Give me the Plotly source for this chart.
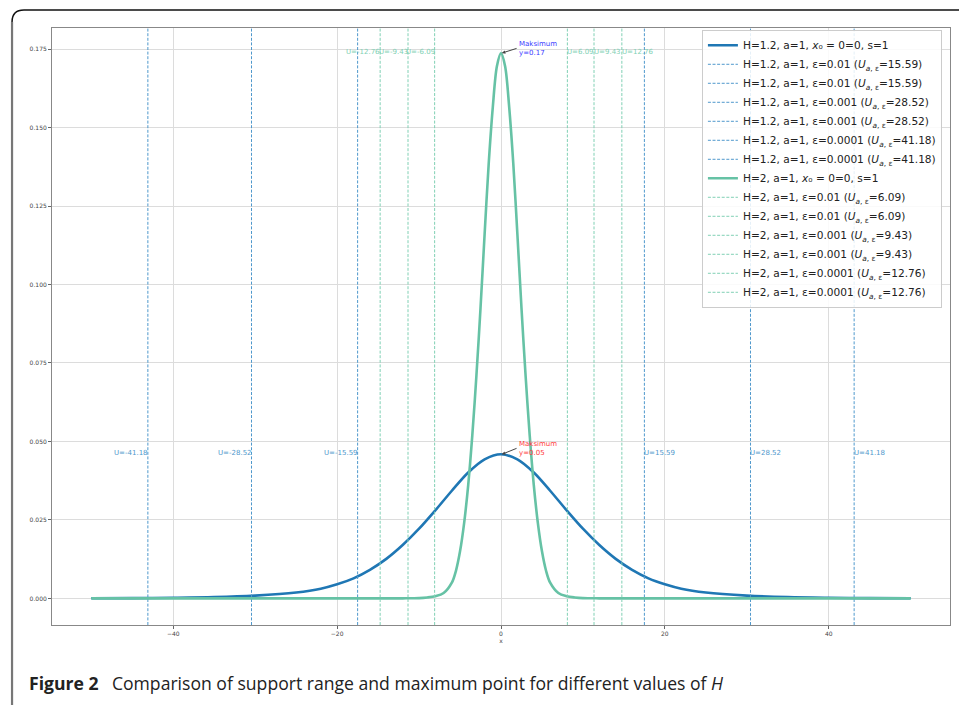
import plotly.graph_objects as go

# ---------------- data ----------------
blue_x = [-50, -45, -40, -35, -30, -25, -22, -20, -18, -16, -14, -12, -10, -8, -6, -4, -2, 0,
          2, 4, 6, 8, 10, 12, 14, 16, 18, 20, 22, 25, 30, 35, 40, 45, 50]
blue_y = [0.00005, 0.0001, 0.0002, 0.0004, 0.0009, 0.0019, 0.0031, 0.0045, 0.0064, 0.0091,
          0.0126, 0.0170, 0.0222, 0.0281, 0.0343, 0.0401, 0.0443, 0.0459,
          0.0443, 0.0401, 0.0343, 0.0281, 0.0222, 0.0170, 0.0126, 0.0091, 0.0064, 0.0045,
          0.0031, 0.0019, 0.0009, 0.0004, 0.0002, 0.0001, 0.00005]

green_x = [-50, -40, -30, -20, -15, -12, -10, -9, -8, -7, -6, -5.5, -5, -4.5, -4, -3.5, -3, -2.5,
           -2, -1.5, -1, -0.5, 0, 0.5, 1, 1.5, 2, 2.5, 3, 3.5, 4, 4.5, 5, 5.5, 6, 7, 8, 9, 10,
           12, 15, 20, 30, 40, 50]
green_y = [0, 0, 0, 0, 0, 0.00002, 0.0001, 0.0003, 0.0007, 0.0017, 0.0050, 0.0088, 0.0150,
           0.0240, 0.0362, 0.0520, 0.0710, 0.0925, 0.1160, 0.1385, 0.1565, 0.1695, 0.1737,
           0.1695, 0.1565, 0.1385, 0.1160, 0.0925, 0.0710, 0.0520, 0.0362, 0.0240, 0.0150,
           0.0088, 0.0050, 0.0017, 0.0007, 0.0003, 0.0001, 0.00002, 0, 0, 0, 0, 0]

eps_values = ["0.01", "0.001", "0.0001"]
blue_U = ["15.59", "28.52", "41.18"]
green_U = ["6.09", "9.43", "12.76"]
# positions of the dashed support lines
blue_line_pos = [17.5, 30.45, 43.1]
green_line_pos = [8.1, 11.35, 14.75]

blue_label_y = 0.0464
green_label_y = 0.1742
blue_max = 0.05
green_max = 0.17

x_ticks = [-40, -20, 0, 20, 40]
y_ticks = [0.0, 0.025, 0.05, 0.075, 0.1, 0.125, 0.15, 0.175]

# ---------------- styling ----------------
BLUE = "#1f77b4"
BLUE_D = "#4f98cc"
GREEN = "#66c2a5"
GREEN_D = "#80d0b4"
Y_LO, Y_HI = -0.00847, 0.1817
X_LO, X_HI = -54.8, 54.8

fig = go.Figure()


def u_name(H, eps, U):
    return f"H={H}, a=1, ε={eps} (<i>U</i><sub><i>a</i>, ε</sub>={U})"


def add_group(H, cx, cy, color, dcolor, Us, poss):
    fig.add_trace(go.Scatter(
        x=cx, y=cy, mode="lines", line=dict(color=color, width=2.6, shape="spline", smoothing=0.9),
        name=f"H={H}, a=1, <i>x</i>₀ = 0=0, s=1"))
    for eps, U, p in zip(eps_values, Us, poss):
        for sgn in (-1, 1):
            fig.add_trace(go.Scatter(
                x=[sgn * p, sgn * p], y=[Y_LO, Y_HI], mode="lines",
                line=dict(color=dcolor, width=1, dash="3px,1.6px"),
                name=u_name(H, eps, U)))


add_group("1.2", blue_x, blue_y, BLUE, BLUE_D, blue_U, blue_line_pos)
add_group("2", green_x, green_y, GREEN, GREEN_D, green_U, green_line_pos)

ann = []
for U, p in zip(blue_U, blue_line_pos):
    ann.append(dict(x=-p, y=blue_label_y, xref="x", yref="y", text=f"U=-{U}", showarrow=False,
                    xanchor="right", yanchor="middle", font=dict(size=7, color=BLUE_D), xshift=2))
    ann.append(dict(x=p, y=blue_label_y, xref="x", yref="y", text=f"U={U}", showarrow=False,
                    xanchor="left", yanchor="middle", font=dict(size=7, color=BLUE_D), xshift=-2))
for U, p in zip(green_U, green_line_pos):
    ann.append(dict(x=-p, y=green_label_y, xref="x", yref="y", text=f"U=-{U}", showarrow=False,
                    xanchor="right", yanchor="middle", font=dict(size=7, color=GREEN_D), xshift=2))
    ann.append(dict(x=p, y=green_label_y, xref="x", yref="y", text=f"U={U}", showarrow=False,
                    xanchor="left", yanchor="middle", font=dict(size=7, color=GREEN_D), xshift=-2))

# maximum annotations
ann.append(dict(x=0.1, y=max(green_y), xref="x", yref="y", ax=1.9, ay=0.1752, axref="x", ayref="y",
                text=f"Maksimum<br>y={green_max}", showarrow=True, arrowhead=2, arrowsize=0.7,
                arrowwidth=1, arrowcolor="#444", standoff=0, xanchor="left", yanchor="middle",
                align="left", font=dict(size=7, color="#3a3aff")))
ann.append(dict(x=0.1, y=max(blue_y), xref="x", yref="y", ax=1.9, ay=0.0478, axref="x", ayref="y",
                text=f"Maksimum<br>y={blue_max}", showarrow=True, arrowhead=2, arrowsize=0.7,
                arrowwidth=1, arrowcolor="#444", standoff=0, xanchor="left", yanchor="middle",
                align="left", font=dict(size=7, color="#ff3b3b")))

# caption
ann.append(dict(x=-0.0278, y=-0.097, xref="paper", yref="paper", xanchor="left", yanchor="middle",
                showarrow=False, align="left",
                text="<b>Figure 2</b>\u2002 Comparison of support range and maximum point for different values of <i>H</i>",
                font=dict(family="Open Sans, sans-serif", size=17.6, color="#222")))

shapes = [
    dict(type="path", xref="paper", yref="paper",
         path="M -0.0445,-0.14 L -0.0445,1.0100", line=dict(color="#777", width=2.2)),
    dict(type="path", xref="paper", yref="paper",
         path="M -0.0445,1.0100 Q -0.0445,1.0301 -0.0312,1.0301 L 1.02,1.0301",
         line=dict(color="#111", width=1.5)),
]

fig.update_layout(
    width=959, height=705,
    margin=dict(l=52, r=9, t=28, b=80),
    paper_bgcolor="white", plot_bgcolor="white",
    font=dict(family="DejaVu Sans", color="#333"),
    annotations=ann, shapes=shapes,
    legend=dict(x=0.991, y=0.997, xanchor="right", yanchor="top",
                bgcolor="rgba(255,255,255,0.85)", bordercolor="#cccccc", borderwidth=1,
                font=dict(family="DejaVu Sans", size=10.6, color="#222"),
                tracegroupgap=0, itemwidth=30),
    showlegend=True,
)
fig.update_xaxes(range=[X_LO, X_HI], tickvals=x_ticks, ticks="outside", ticklen=3, tickcolor="#666",
                 tickfont=dict(size=6, color="#444"), showgrid=True, gridcolor="#dcdcdc", gridwidth=1,
                 zeroline=False, showline=True, linecolor="#888", linewidth=1, mirror=True,
                 title=dict(text="x", font=dict(size=6, color="#444"), standoff=2))
fig.update_yaxes(range=[Y_LO, Y_HI], tickvals=y_ticks, tickformat=".3f", ticks="outside", ticklen=3,
                 tickcolor="#666", tickfont=dict(size=6, color="#444"), showgrid=True,
                 gridcolor="#dcdcdc", gridwidth=1, zeroline=False, showline=True, linecolor="#888",
                 linewidth=1, mirror=True)

fig.write_html("out.html", config={"displayModeBar": False},
               post_script="document.body.style.margin='0';document.body.style.overflow='hidden';")
